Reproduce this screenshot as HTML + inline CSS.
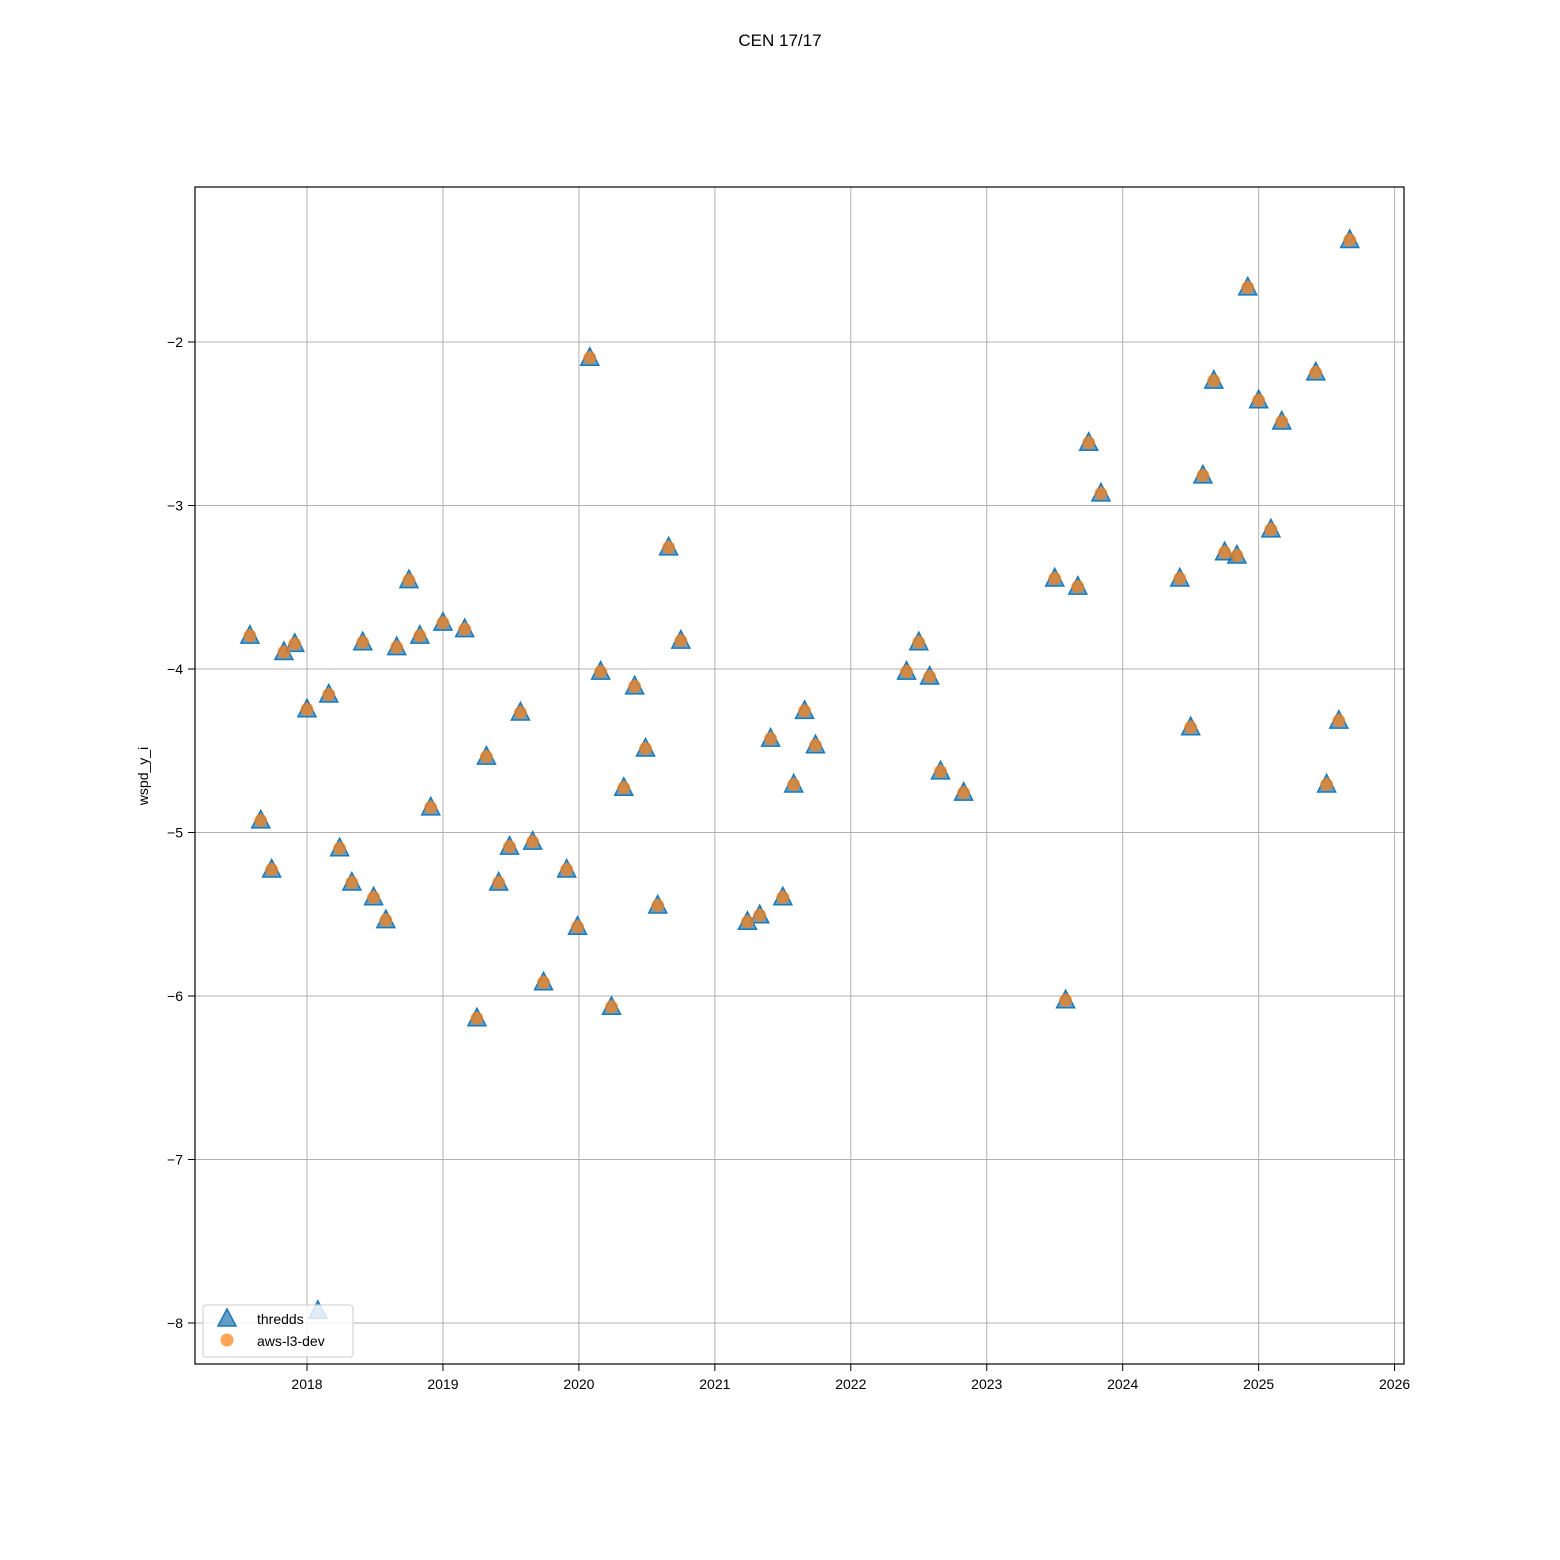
<!DOCTYPE html>
<html><head><meta charset="utf-8"><style>
html,body{margin:0;padding:0;background:#fff;}
svg{display:block;font-family:"Liberation Sans","DejaVu Sans",sans-serif;}
</style></head><body>
<svg id="chart" width="1560" height="1560" viewBox="0 0 1560 1560" xmlns="http://www.w3.org/2000/svg">
<rect width="1560" height="1560" fill="#fff"/>
<text x="780" y="46" text-anchor="middle" font-size="17">CEN 17/17</text>
<g id="grid"></g>
<g id="marks"></g>
<rect x="195" y="187" width="1209" height="1177" fill="none" stroke="#000" stroke-width="1.2"/>
<g id="ticks"></g>
<text transform="translate(148,776) rotate(-90)" text-anchor="middle" font-size="14">wspd_y_i</text>
<g>
<rect x="203" y="1305" width="150" height="52" rx="3" fill="#fff" fill-opacity="0.8" stroke="#ccc"/>
<polygon points="227,1309 236,1326 218,1326" fill="#1f77b4" fill-opacity="0.7" stroke="#1f77b4" stroke-width="1.5"/>
<text x="257" y="1324" font-size="14">thredds</text>
<circle cx="227" cy="1340" r="6.5" fill="#ff7f0e" fill-opacity="0.7"/>
<text x="257" y="1346" font-size="14">aws-l3-dev</text>
</g>
</svg>
<script>
const years = [2017.58,2017.66,2017.74,2017.83,2017.91,2018.0,2018.08,2018.16,2018.24,2018.33,2018.41,2018.49,2018.58,2018.66,2018.75,2018.83,2018.91,2019.0,2019.16,2019.25,2019.32,2019.41,2019.49,2019.57,2019.66,2019.74,2019.91,2019.99,2020.08,2020.16,2020.24,2020.33,2020.41,2020.49,2020.58,2020.66,2020.75,2021.24,2021.33,2021.41,2021.50,2021.58,2021.66,2021.74,2022.41,2022.50,2022.58,2022.66,2022.83,2023.50,2023.58,2023.67,2023.75,2023.84,2024.42,2024.50,2024.59,2024.67,2024.75,2024.84,2024.92,2025.00,2025.09,2025.17,2025.42,2025.50,2025.59,2025.67];
const thredds = [-3.79,-4.92,-5.22,-3.89,-3.84,-4.24,-7.92,-4.15,-5.09,-5.30,-3.83,-5.39,-5.53,-3.86,-3.45,-3.79,-4.84,-3.71,-3.75,-6.13,-4.53,-5.30,-5.08,-4.26,-5.05,-5.91,-5.22,-5.57,-2.09,-4.01,-6.06,-4.72,-4.10,-4.48,-5.44,-3.25,-3.82,-5.54,-5.50,-4.42,-5.39,-4.70,-4.25,-4.46,-4.01,-3.83,-4.04,-4.62,-4.75,-3.44,-6.02,-3.49,-2.61,-2.92,-3.44,-4.35,-2.81,-2.23,-3.28,-3.30,-1.66,-2.35,-3.14,-2.48,-2.18,-4.70,-4.31,-1.37];
const awsDev = thredds.slice(0, 6).concat([null]).concat(thredds.slice(7));
const xTicks = [2018,2019,2020,2021,2022,2023,2024,2025,2026];
const yTicks = [-2,-3,-4,-5,-6,-7,-8];
const yTickLabels = ["\u22122","\u22123","\u22124","\u22125","\u22126","\u22127","\u22128"];

const X = v => 307 + (v - 2018) * 135.95;
const Y = v => 342 + (-2 - v) * 163.5;
const NS = "http://www.w3.org/2000/svg";
function mk(tag, attrs, parent){const e=document.createElementNS(NS,tag);for(const k in attrs)e.setAttribute(k,attrs[k]);parent.appendChild(e);return e;}
const grid=document.getElementById('grid'), ticks=document.getElementById('ticks'), marks=document.getElementById('marks');
xTicks.forEach(t=>{
  const x=X(t);
  const g=mk('line',{x1:x,x2:x,y1:187,y2:1364,stroke:'#b0b0b0','stroke-width':1},grid);
  
  
  mk('line',{x1:x,x2:x,y1:1364,y2:1371,stroke:'#000'},ticks);
  const l=mk('text',{x:x,y:1389,'text-anchor':'middle','font-size':14},ticks);
  l.textContent=t;
  
  
});
yTicks.forEach((t,i)=>{
  const y=Y(t);
  const g=mk('line',{x1:195,x2:1404,y1:y,y2:y,stroke:'#b0b0b0','stroke-width':1},grid);
  
  
  mk('line',{x1:188,x2:195,y1:y,y2:y,stroke:'#000'},ticks);
  const l=mk('text',{x:183,y:y+5,'text-anchor':'end','font-size':14},ticks);
  l.textContent=yTickLabels[i];
  
  
});
years.forEach((yr,i)=>{
  const x=X(yr), y=Y(thredds[i]);
  const p=mk('polygon',{points:`${x},${y-9} ${x+9},${y+8.5} ${x-9},${y+8.5}`,fill:'#1f77b4','fill-opacity':0.7,stroke:'#1f77b4','stroke-width':1.5},marks);
  
  
});
years.forEach((yr,i)=>{
  if(awsDev[i]===null) return;
  const c=mk('circle',{cx:X(yr),cy:Y(awsDev[i])+1,r:6.5,fill:'#ff7f0e','fill-opacity':0.7},marks);
  
  
});
</script>
</body></html>
